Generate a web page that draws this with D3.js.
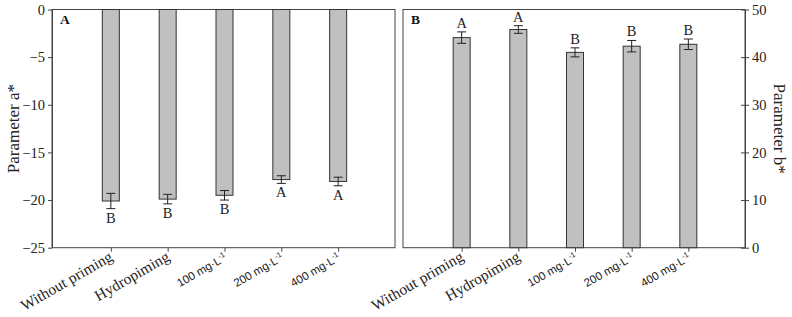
<!DOCTYPE html>
<html><head><meta charset="utf-8">
<script src="https://cdn.jsdelivr.net/npm/d3@7"></script>
<style>body{margin:0;background:#fff}svg{display:block}</style>
</head><body>
<svg id="c" width="792" height="317"></svg>
<script>
const categories = ["Without priming","Hydropiming","100 mg·L-1","200 mg·L-1","400 mg·L-1"];
const aValues = [-20.1,-19.9,-19.5,-17.85,-18.05];
const aErrors = [0.8,0.5,0.5,0.4,0.45];
const aLetters = ["B","B","B","A","A"];
const bValues = [44.1,45.8,41.0,42.3,42.7];
const bErrors = [1.2,0.8,0.95,1.2,1.1];
const bLetters = ["A","A","B","B","B"];
const aTicks = [0,-5,-10,-15,-20,-25];
const bTicks = [0,10,20,30,40,50];

const svg = d3.select("#c");
const serif = "'Liberation Serif', 'DejaVu Serif', serif";
const sans = "'Liberation Sans', Arial, sans-serif";
const frameCol = "#444";
const yTop = 9.5, yBottom = 247.7;
const barW = 17;

function xLabel(g, x, d){
  const t = g.append("text")
    .attr("transform", `translate(${x+3},${yBottom+12}) rotate(-30)`)
    .attr("text-anchor","end");
  const m = d.match(/^(\d+) mg·L-1$/);
  if (m){
    t.style("font-family", sans).style("font-size","11.5px").attr("fill","#222");
    t.append("tspan").text(m[1]+" mg·L");
    t.append("tspan").attr("dy",-4.5).style("font-size","7.5px").text("-1");
  } else {
    t.style("font-family", serif).style("font-size","15.5px").attr("fill","#222").text(d);
  }
}

function panel(opts){
  const {x0,x1,domain,values,errors,letters,ticks,side,label,title,titleX,titleRot,letterAbove} = opts;
  const g = svg.append("g");
  const x = d3.scalePoint().domain(categories).range([x0+2, x1]).padding(1);
  const y = d3.scaleLinear().domain(domain).range([yBottom, yTop]);
  const base = y(0);
  g.append("rect").attr("x",x0).attr("y",yTop).attr("width",x1-x0).attr("height",yBottom-yTop)
    .attr("fill","none").attr("stroke",frameCol).attr("stroke-width",1);
  g.selectAll("rect.bar").data(values).join("rect").attr("class","bar")
    .attr("x",(d,i)=>x(categories[i])-barW/2)
    .attr("y",d=>Math.min(y(d),base))
    .attr("width",barW)
    .attr("height",d=>Math.abs(y(d)-base))
    .attr("fill","#c0c0c0").attr("stroke","#333").attr("stroke-width",1);
  values.forEach((v,i)=>{
    const cx = x(categories[i]);
    const yt = y(v+errors[i]), yb = y(v-errors[i]);
    g.append("line").attr("x1",cx).attr("x2",cx).attr("y1",yt).attr("y2",yb).attr("stroke","#222");
    [yt,yb].forEach(yy=>g.append("line").attr("x1",cx-4.5).attr("x2",cx+4.5).attr("y1",yy).attr("y2",yy).attr("stroke","#222"));
    const ly = letterAbove ? Math.min(yt,yb)-4 : Math.max(yt,yb)+14;
    g.append("text").attr("x",cx).attr("y",ly).attr("text-anchor","middle")
      .style("font-family",serif).style("font-size","14.5px").attr("fill","#222").text(letters[i]);
  });
  const ax = side==="left" ? d3.axisLeft(y) : d3.axisRight(y);
  ax.tickValues(ticks).tickFormat(d3.format("d")).tickSizeInner(4).tickSizeOuter(0).tickPadding(3);
  const ya = g.append("g").attr("transform",`translate(${side==="left"?x0:x1},0)`).call(ax);
  ya.select(".domain").attr("stroke",frameCol);
  ya.selectAll(".tick line").attr("stroke",frameCol);
  if (side==="right") ya.selectAll(".tick line").attr("x1",-4);
  ya.selectAll(".tick text").style("font-family",serif).style("font-size","14.5px").attr("fill","#222");
  const xa = g.append("g").attr("transform",`translate(0,${yBottom})`)
    .call(d3.axisBottom(x).tickSizeInner(4).tickSizeOuter(0).tickFormat(""));
  xa.select(".domain").remove();
  xa.selectAll(".tick line").attr("stroke",frameCol);
  categories.forEach(c=>xLabel(g, x(c), c));
  g.append("text").attr("x",x0+8).attr("y",yTop+14)
    .style("font-family",serif).style("font-size","13.5px").style("font-weight","bold").attr("fill","#111").text(label);
  g.append("text").attr("transform",`translate(${titleX},${(yTop+yBottom)/2}) rotate(${titleRot})`)
    .attr("text-anchor","middle").style("font-family",serif).style("font-size","17px").attr("fill","#222").text(title);
}

panel({x0:52,x1:395,domain:[-25,0],values:aValues,errors:aErrors,letters:aLetters,ticks:aTicks,
  side:"left",label:"A",title:"Parameter a*",titleX:19,titleRot:-90,letterAbove:false});
panel({x0:403,x1:745,domain:[0,50],values:bValues,errors:bErrors,letters:bLetters,ticks:bTicks,
  side:"right",label:"B",title:"Parameter b*",titleX:774,titleRot:90,letterAbove:true});
</script>
</body></html>
